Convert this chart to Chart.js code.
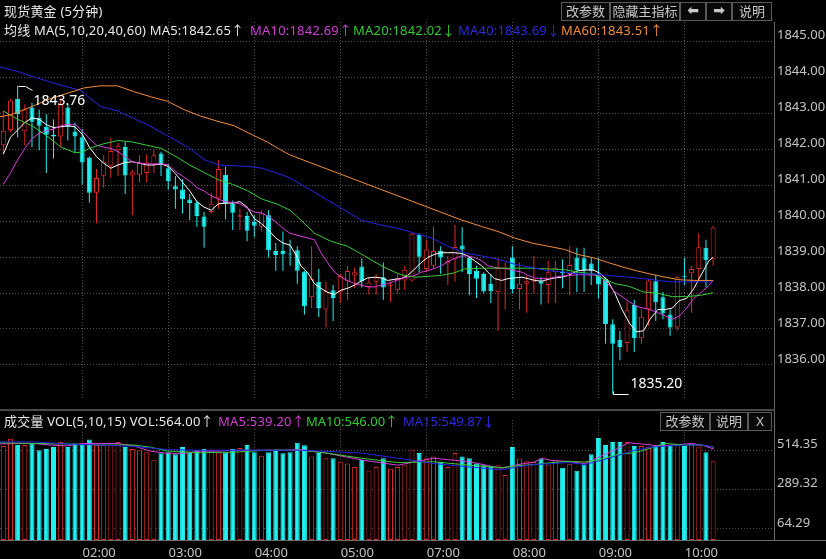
<!DOCTYPE html>
<html><head><meta charset="utf-8">
<script src="https://cdn.jsdelivr.net/npm/chart.js@4.4.1/dist/chart.umd.min.js"></script>
<style>
html,body{margin:0;padding:0;background:#000;}
#wrap{position:relative;width:826px;height:559px;overflow:hidden;background:#000;font-family:"Noto Sans","Noto Sans CJK SC",sans-serif;}
.t{position:absolute;white-space:nowrap;font-size:13px;line-height:16px;letter-spacing:0.2px;}
.btn{position:absolute;box-sizing:border-box;border:1px solid #5a5a5a;color:#c8c8c8;font-size:13px;text-align:center;line-height:16px;height:19px;background:#080808;font-family:"Noto Sans CJK SC",sans-serif;}
.ar{font-family:"DejaVu Sans";font-size:14px;font-weight:bold;line-height:15px;}
.ln{position:absolute;}
#c1w{position:absolute;left:0;top:0;width:826px;height:410px;}
#c2w{position:absolute;left:0;top:410px;width:826px;height:149px;}
</style></head>
<body>
<div id="wrap">
  <div id="c1w"><canvas id="c1" width="826" height="410"></canvas></div>
  <div id="c2w"><canvas id="c2" width="826" height="149"></canvas></div>

  <div class="ln" style="left:774px;top:22px;width:1px;height:519px;background:#6a6a6a"></div>
  <div class="ln" style="left:0;top:409px;width:775px;height:2px;background:#4a4a4a"></div>
  <div class="ln" style="left:0;top:540px;width:826px;height:1px;background:#6a6a6a"></div>

  <div class="t" style="left:4px;top:3px;color:#e8e8e8">现货黄金 (5分钟)</div>
  <div class="btn" style="left:561px;top:2px;width:49px">改参数</div>
  <div class="btn" style="left:610px;top:2px;width:70px">隐藏主指标</div>
  <div class="btn ar" style="left:680px;top:2px;width:26px">⬅</div>
  <div class="btn ar" style="left:706px;top:2px;width:26px">➡</div>
  <div class="btn" style="left:732px;top:2px;width:40px">说明</div>

  <div class="t" style="left:4px;top:22px;color:#e8e8e8">均线 MA(5,10,20,40,60)&nbsp;MA5:1842.65↑</div>
  <div class="t" style="left:250px;top:22px;color:#d23cd2">MA10:1842.69↑</div>
  <div class="t" style="left:353px;top:22px;color:#34c834">MA20:1842.02↓</div>
  <div class="t" style="left:458px;top:22px;color:#2a2ae0">MA40:1843.69↓</div>
  <div class="t" style="left:561px;top:22px;color:#f08c3c">MA60:1843.51↑</div>

  <div class="t" style="left:4px;top:413px;color:#e8e8e8">成交量 VOL(5,10,15)&nbsp;VOL:564.00↑</div>
  <div class="t" style="left:218px;top:413px;color:#d23cd2">MA5:539.20↑</div>
  <div class="t" style="left:306px;top:413px;color:#34c834;letter-spacing:0">MA10:546.00↑</div>
  <div class="t" style="left:403px;top:413px;color:#2a2ae0;letter-spacing:0">MA15:549.87↓</div>
  <div class="btn" style="left:660px;top:412px;width:50px">改参数</div>
  <div class="btn" style="left:710px;top:412px;width:38px">说明</div>
  <div class="btn" style="left:748px;top:412px;width:24px;font-family:'Noto Sans'">X</div>
</div>
<script>
// ---------- data ----------
const opens = [1842.11,1842.53,1843.40,1842.50,1843.16,1842.87,1842.62,1842.40,1842.35,1843.16,
1842.49,1842.33,1841.77,1840.79,1841.26,1841.54,1841.97,1842.06,1841.27,1841.29,
1841.34,1841.56,1841.88,1841.47,1840.97,1840.88,1840.60,1840.52,1840.13,1840.25,
1840.63,1841.29,1840.48,1840.12,1840.14,1839.98,1839.84,1840.16,1839.17,1839.17,
1839.10,1839.19,1838.60,1837.88,1838.31,1837.54,1838.08,1838.02,1838.33,1838.49,
1838.74,1838.17,1838.31,1838.44,1838.20,1838.08,1838.35,1838.35,1839.62,1838.67,
1838.76,1839.17,1838.83,1838.94,1839.32,1838.99,1838.62,1838.53,1838.26,1838.02,
1838.67,1838.99,1838.11,1838.26,1838.31,1838.33,1838.22,1838.58,1838.60,1838.53,
1838.98,1838.97,1838.82,1838.49,1838.40,1837.13,1836.70,1836.61,1837.67,1836.74,
1837.54,1838.33,1837.88,1837.40,1837.04,1838.46,1838.55,1838.67,1839.26,1838.94];
const highs = [1843.06,1843.40,1843.76,1843.25,1843.28,1843.10,1842.97,1842.83,1843.42,1843.24,
1842.74,1842.56,1841.79,1841.45,1841.83,1842.31,1842.17,1842.20,1841.43,1841.83,
1841.86,1841.97,1841.93,1841.59,1841.25,1841.16,1840.75,1840.57,1840.25,1840.79,
1841.70,1841.52,1840.57,1840.34,1840.25,1840.16,1840.30,1840.30,1839.39,1839.71,
1839.48,1839.30,1838.62,1839.30,1838.67,1838.31,1838.22,1838.53,1838.76,1838.71,
1838.96,1838.42,1838.53,1838.85,1838.31,1838.53,1838.76,1839.66,1839.66,1839.48,
1839.85,1839.30,1839.03,1839.89,1839.83,1839.03,1838.76,1838.58,1838.53,1838.96,
1838.85,1839.30,1838.85,1838.49,1839.03,1838.44,1838.90,1838.90,1838.94,1839.30,
1839.26,1839.26,1838.98,1838.98,1838.44,1837.27,1836.95,1837.76,1837.81,1837.54,
1838.40,1838.49,1838.03,1837.54,1838.49,1838.98,1838.76,1839.66,1839.48,1839.87];
const lows = [1841.88,1842.47,1842.33,1842.10,1842.06,1841.97,1841.34,1841.74,1842.06,1842.24,
1841.92,1841.02,1840.52,1839.94,1840.93,1841.20,1841.25,1840.75,1840.16,1841.07,
1841.07,1841.34,1841.25,1840.88,1840.34,1840.21,1840.03,1839.84,1839.26,1840.21,
1840.34,1840.05,1839.75,1839.75,1839.44,1839.55,1839.71,1838.99,1838.62,1838.62,
1838.76,1838.26,1837.40,1837.58,1837.33,1837.04,1837.22,1837.72,1837.81,1838.13,
1838.15,1837.95,1837.95,1837.81,1837.76,1837.99,1838.08,1838.31,1838.58,1838.58,
1838.67,1838.53,1838.22,1838.31,1838.58,1837.94,1837.86,1837.99,1837.72,1836.95,
1837.54,1837.99,1837.54,1837.45,1837.99,1837.68,1837.72,1837.72,1838.13,1837.94,
1838.03,1838.03,1838.22,1837.85,1836.59,1835.20,1836.13,1836.36,1836.36,1836.59,
1837.09,1837.22,1837.27,1836.81,1836.95,1838.22,1837.45,1838.40,1838.17,1838.76];
const closes = [1842.51,1843.35,1842.97,1843.10,1842.76,1842.65,1842.40,1842.35,1843.24,1842.62,
1842.35,1841.63,1840.79,1841.20,1841.65,1841.95,1842.08,1841.27,1841.36,1841.63,
1841.63,1841.83,1841.56,1841.11,1840.88,1840.61,1840.50,1840.14,1839.84,1840.48,
1841.45,1840.48,1840.23,1840.16,1839.73,1839.87,1840.21,1839.19,1839.06,1839.08,
1839.07,1838.62,1837.63,1838.40,1837.58,1838.05,1837.86,1838.47,1838.61,1838.58,
1838.33,1838.29,1838.44,1838.15,1838.23,1838.42,1838.65,1839.65,1839.01,1839.21,
1839.17,1838.99,1838.90,1839.28,1839.21,1838.53,1838.40,1838.04,1838.05,1838.69,
1838.69,1838.11,1838.26,1838.33,1838.40,1838.26,1838.58,1838.69,1838.55,1838.78,
1838.64,1838.62,1838.62,1838.24,1837.13,1836.59,1836.50,1837.52,1836.74,1837.34,
1838.35,1837.74,1837.43,1837.04,1838.44,1838.44,1838.67,1839.27,1838.91,1839.82];
const volumes = [541,582,546,546,555,516,523,534,564,534,
555,555,578,546,546,546,564,534,523,516,
505,462,498,505,493,534,505,516,523,520,
505,505,523,529,546,505,484,505,511,498,
505,559,545,480,500,470,470,450,440,420,
460,400,420,470,410,420,430,520,500,470,
480,450,420,500,480,470,440,430,420,430,
373,534,469,452,448,469,434,462,416,439,
398,434,493,586,546,564,564,564,541,541,
534,541,564,546,552,541,552,537,505,452];

// moving-average lines as [candle index, value]
const ma5Pts = [[0,1841.86],[1,1842.33],[2,1842.53],[3,1842.74],[4,1842.87],[5,1842.83],[6,1842.68],[7,1842.60],[8,1842.62],[9,1842.65],
[10,1842.62],[11,1842.42],[12,1842.06],[13,1841.79],[14,1841.61],[15,1841.47],[16,1841.56],[17,1841.63],[18,1841.65],[19,1841.61],
[20,1841.56],[21,1841.56],[22,1841.59],[23,1841.52],[24,1841.32],[25,1841.08],[26,1840.84],[27,1840.54],[28,1840.39],[29,1840.30],
[30,1840.48],[31,1840.50],[32,1840.50],[33,1840.54],[34,1840.39],[35,1840.07],[36,1839.93],[37,1839.75],[38,1839.53],[39,1839.39],
[40,1839.33],[40.9,1839.03],[41.5,1838.76],[42.4,1838.58],[43.4,1838.26],[44.3,1838.13],[45.2,1838.02],[46.2,1837.96],[47.1,1838.08],[48,1838.13],
[49,1838.22],[49.9,1838.33],[50.8,1838.42],[51.8,1838.44],[52.7,1838.42],[53.6,1838.35],[54.6,1838.38],[55.5,1838.40],[56.4,1838.49],[57.4,1838.67],
[58.3,1838.85],[59.2,1838.99],[60.2,1839.08],[61.1,1839.12],[62,1839.12],[62.9,1839.12],[63.9,1839.10],[64.8,1839.03],[65.7,1838.90],[66.7,1838.76],
[67.6,1838.58],[68.5,1838.40],[69.5,1838.35],[70.4,1838.40],[71.3,1838.42],[72.3,1838.44],[73.2,1838.40],[74.1,1838.35],[75.1,1838.33],[76,1838.38],
[76.9,1838.42],[77.9,1838.44],[78.8,1838.49],[79.7,1838.58],[80.2,1838.62],[81.2,1838.64],[82.3,1838.64],[83.2,1838.55],[84.3,1838.35],[85.3,1837.99],
[86.3,1837.54],[87.3,1837.17],[88.3,1836.92],[89.3,1836.95],[90.2,1837.27],[91.3,1837.54],[92.3,1837.54],[93.3,1837.58],[94.3,1837.79],[95.3,1837.85],
[96.3,1838.12],[97.4,1838.53],[98.4,1838.89],[99,1839.00]];
const ma10Pts = [[0,1841.02],[1,1841.34],[2,1841.70],[3,1842.02],[4,1842.29],[5,1842.44],[6,1842.51],[7,1842.56],[8,1842.65],[9,1842.69],
[10,1842.69],[11,1842.51],[12,1842.29],[13,1842.11],[14,1842.06],[15,1842.02],[16,1841.93],[17,1841.79],[18,1841.65],[19,1841.61],
[20,1841.59],[21,1841.59],[22,1841.59],[23,1841.56],[24,1841.38],[25,1841.25],[26,1841.11],[27,1840.93],[28,1840.84],[29,1840.70],
[30,1840.61],[31,1840.54],[32,1840.52],[33,1840.48],[34,1840.36],[35,1840.25],[36,1840.23],[37,1840.12],[38,1839.98],[39,1839.80],
[40,1839.66],[43.4,1839.48],[44.3,1839.12],[45.2,1838.85],[46.2,1838.58],[47.1,1838.44],[48,1838.35],[49,1838.26],[49.9,1838.22],[50.8,1838.17],
[51.8,1838.17],[52.7,1838.22],[53.6,1838.26],[54.6,1838.33],[55.5,1838.40],[56.4,1838.44],[57.4,1838.49],[58.3,1838.58],[59.2,1838.62],[60.2,1838.69],
[61.1,1838.76],[62,1838.87],[62.9,1838.96],[63.9,1839.03],[64.8,1839.03],[65.7,1838.99],[66.7,1838.90],[67.6,1838.76],[68.5,1838.71],[69.5,1838.69],
[70.4,1838.67],[71.3,1838.62],[72.3,1838.58],[73.2,1838.49],[74.1,1838.42],[75.1,1838.40],[76,1838.40],[76.9,1838.44],[77.9,1838.47],[80.2,1838.51],
[82.3,1838.50],[83.2,1838.49],[84.3,1838.26],[85.3,1838.03],[86.3,1837.90],[87.3,1837.76],[88.3,1837.63],[89.3,1837.58],[90.2,1837.54],[91.3,1837.45],
[92.3,1837.37],[93.3,1837.27],[94.3,1837.36],[95.3,1837.58],[96.3,1837.85],[97.4,1838.03],[98.4,1838.21],[99,1838.35]];
const ma20Pts = [[0,1843.06],[2,1842.83],[4,1842.65],[6,1842.38],[8,1842.06],[10,1841.90],[11,1841.92],[12,1842.02],[14,1842.15],[16,1842.24],
[18,1842.20],[20,1842.11],[22,1842.02],[24.1,1841.79],[26,1841.56],[28.1,1841.34],[30.1,1841.14],[32,1841.02],[34.1,1840.84],[36.1,1840.61],
[38.1,1840.48],[40,1840.30],[41.5,1840.03],[43.4,1839.66],[45.7,1839.44],[48,1839.30],[50.4,1839.03],[52.7,1838.76],[54.6,1838.58],[55.5,1838.51],
[57.4,1838.44],[59.7,1838.47],[61.1,1838.49],[62.9,1838.56],[64.3,1838.67],[66.7,1838.69],[69,1838.69],[71.3,1838.69],[73.7,1838.69],[76,1838.67],
[78.3,1838.65],[80.2,1838.58],[82.3,1838.53],[83.2,1838.44],[84.3,1838.35],[85.3,1838.26],[87.2,1838.19],[89.3,1838.03],[91.3,1837.99],[93.3,1837.90],
[95.3,1837.90],[97.4,1837.94],[99,1838.01]];
const ma40Pts = [[-0.5,1844.29],[2.3,1844.14],[4.2,1844.01],[6.5,1843.87],[8.9,1843.73],[10.7,1843.64],[13.5,1843.19],[16,1843.06],[18,1842.87],[20,1842.69],
[22,1842.47],[24.1,1842.24],[26,1842.02],[28.1,1841.70],[30.1,1841.56],[32,1841.54],[34.1,1841.52],[36.1,1841.47],[38.1,1841.34],[40,1841.20],
[49.9,1840.03],[52.7,1839.89],[55,1839.80],[57.4,1839.66],[59.7,1839.53],[62,1839.30],[64.3,1839.12],[66.7,1839.03],[69,1838.94],[71.3,1838.80],
[73.7,1838.71],[76,1838.62],[78.3,1838.58],[80.2,1838.53],[82.3,1838.53],[84.3,1838.49],[87.2,1838.44],[89.3,1838.40],[91.3,1838.35],[93.3,1838.31],
[95.3,1838.31],[97.4,1838.31],[99,1838.31]];
const ma60Pts = [[-0.5,1842.90],[0.9,1842.95],[2.3,1843.05],[4.2,1843.20],[6.5,1843.40],[8.9,1843.55],[11.2,1843.70],[13.5,1843.76],[15.9,1843.76],[18.2,1843.60],
[20.5,1843.46],[22.9,1843.33],[25.2,1843.10],[27.5,1842.92],[29.8,1842.78],[32.2,1842.65],[34.5,1842.42],[36.8,1842.20],[39.2,1841.92],[40.1,1841.83],
[63.9,1840.03],[66.7,1839.85],[69,1839.71],[71.3,1839.53],[73.7,1839.39],[76,1839.30],[78.3,1839.21],[80.2,1839.07],[82.3,1838.98],[84.3,1838.85],
[86.3,1838.73],[88.3,1838.62],[90.2,1838.53],[92.3,1838.44],[94.3,1838.37],[96.3,1838.35],[99,1838.35]];

const vma5Pts = [[-0.5,552],[1.9,555],[4.2,555],[6.5,546],[8.9,541],[11.2,555],[13.5,555],[15.9,555],[18.2,541],[20.5,511],
[22.9,498],[25.2,498],[27.5,511],[29.8,511],[32.2,516],[34.5,516],[36.8,516],[39.2,516],[41.5,520],[45,500],
[50,460],[55,430],[60,470],[65,450],[69.5,412],[71.8,434],[74.1,448],[75.1,470],[76.5,457],[78.8,452],
[81.1,439],[83.5,484],[85.8,529],[87.2,559],[89,552],[91.4,541],[93.7,546],[96,555],[97.4,546],[99.1,523]];
const vma10Pts = [[-0.5,559],[4.2,555],[8.9,552],[13.5,546],[18.2,546],[20.5,534],[22.9,511],[27.5,502],[32.2,505],[36.8,516],
[41.5,516],[45,500],[50,470],[55,445],[60,450],[65,430],[69.5,416],[71.8,427],[74.1,434],[76.5,445],
[78.8,452],[81.1,448],[83.5,466],[85.8,493],[88.1,502],[90.4,529],[92.3,555],[95.1,546],[97.4,546],[99.1,534]];
const vma15Pts = [[-0.5,564],[4.2,564],[8.9,552],[13.5,546],[18.2,538],[20.5,529],[22.9,520],[27.5,516],[32.2,516],[36.8,516],
[41.5,516],[50,500],[55,470],[60,440],[65,420],[69.5,403],[71.8,421],[74.1,434],[76.5,439],[78.8,445],
[81.1,434],[83.5,459],[85.8,487],[88.1,516],[90.4,534],[92.8,541],[95.1,546],[97.4,546],[99.1,534]];

const priceTicks = [1836,1837,1838,1839,1840,1841,1842,1843,1844,1845];
const volTicks = [64.29,289.32,514.35];
const hourTickIdx = [11,23,35,47,59,71,83,95];
const hourLabels = ['02:00','03:00','04:00','05:00','07:00','08:00','09:00','10:00'];
const hiMark = {idx:2, val:1843.76, text:'1843.76'};
const loMark = {idx:85, val:1835.20, text:'1835.20'};

// ---------- styling ----------
const RED = '#e02a2a', CYAN = '#22f0f0';
const GRID = 'rgba(150,150,150,0.55)';
const XMIN = -0.46, XMAX = 107.63;
const idx = opens.map((_, i) => i);
const isUp = i => closes[i] >= opens[i];
const toXY = arr => arr.map(([x, y]) => ({x, y}));
const lineDs = (pts, color) => ({type:'line', data:toXY(pts), borderColor:color, borderWidth:1,
  pointRadius:0, tension:0, order:1, parsing:false});

const xScaleBase = {
  type:'linear', min:XMIN, max:XMAX, offset:false,
  grid:{color:GRID, lineWidth:1, drawTicks:false, offset:false},
  border:{display:false, dash:[1,2]},
  afterBuildTicks: s => { s.ticks = hourTickIdx.map(v => ({value:v})); }
};

const annot = {
  id:'annot',
  afterDatasetsDraw(chart){
    const {ctx, scales:{x, y}} = chart;
    ctx.save();
    ctx.strokeStyle = '#ffffff'; ctx.fillStyle = '#ffffff'; ctx.lineWidth = 1;
    ctx.font = '14px "Noto Sans"'; ctx.textBaseline = 'middle';
    const hx = Math.round(x.getPixelForValue(hiMark.idx)) + 0.5, hy = Math.round(y.getPixelForValue(hiMark.val)) + 0.5;
    ctx.beginPath(); ctx.moveTo(hx, hy); ctx.lineTo(hx + 7, hy); ctx.lineTo(hx + 14, hy + 4); ctx.stroke();
    ctx.fillText(hiMark.text, hx + 15, hy + 15);
    const lx = Math.round(x.getPixelForValue(loMark.idx)) + 0.5, ly = Math.round(y.getPixelForValue(loMark.val)) + 0.5;
    ctx.beginPath(); ctx.moveTo(lx, ly - 3); ctx.lineTo(lx, ly); ctx.lineTo(lx + 15, ly); ctx.stroke();
    ctx.fillText(loMark.text, lx + 17, ly - 10);
    ctx.restore();
  }
};

Chart.defaults.font.family = '"Noto Sans", sans-serif';

new Chart(document.getElementById('c1'), {
  type:'bar',
  data:{datasets:[
    {type:'bar', data:idx.map(i => ({x:i, y:[lows[i], highs[i]]})),
     backgroundColor:idx.map(i => isUp(i) ? RED : CYAN), borderWidth:0,
     barThickness:1, grouped:false, order:3, inflateAmount:0},
    {type:'bar', data:idx.map(i => ({x:i, y:[Math.min(opens[i], closes[i]), Math.max(opens[i], closes[i])]})),
     backgroundColor:idx.map(i => isUp(i) ? '#000000' : CYAN),
     borderColor:idx.map(i => isUp(i) ? RED : CYAN), borderWidth:1, borderSkipped:false,
     barThickness:5, grouped:false, order:2, minBarLength:1, inflateAmount:0},
    lineDs(ma60Pts, '#f08c3c'),
    lineDs(ma40Pts, '#2424e6'),
    lineDs(ma20Pts, '#38cc38'),
    lineDs(ma10Pts, '#dc3cdc'),
    lineDs(ma5Pts, '#ffffff')
  ]},
  options:{
    responsive:false, animation:false, events:[], devicePixelRatio:1,
    layout:{padding:{top:22, bottom:1, left:0, right:0}},
    plugins:{legend:{display:false}, tooltip:{enabled:false}},
    scales:{
      x:Object.assign({}, xScaleBase, {ticks:{display:false}, afterFit: s => { s.height = 0; }}),
      y:{type:'linear', position:'right', min:1835.02, max:1845.535,
        grid:{color:GRID, lineWidth:1, drawTicks:false},
        border:{display:false, dash:[1,2]},
        ticks:{color:'#c4c4c4', font:{size:13}, padding:2, labelOffset:-6,
          callback: v => Number(v).toFixed(2)},
        afterBuildTicks: s => { s.ticks = priceTicks.map(v => ({value:v})); },
        afterFit: s => { s.width = 51; }
      }
    }
  },
  plugins:[annot]
});

new Chart(document.getElementById('c2'), {
  type:'bar',
  data:{datasets:[
    {type:'bar', data:idx.map(i => ({x:i, y:volumes[i]})),
     backgroundColor:idx.map(i => isUp(i) ? '#000000' : CYAN),
     borderColor:idx.map(i => isUp(i) ? RED : CYAN), borderWidth:1, borderSkipped:false,
     barThickness:5, grouped:false, order:2, inflateAmount:0},
    lineDs(vma15Pts, '#2424e6'),
    lineDs(vma10Pts, '#38cc38'),
    lineDs(vma5Pts, '#dc3cdc')
  ]},
  options:{
    responsive:false, animation:false, events:[], devicePixelRatio:1,
    layout:{padding:{top:1, bottom:0, left:0, right:0}},
    plugins:{legend:{display:false}, tooltip:{enabled:false}},
    scales:{
      x:Object.assign({}, xScaleBase, {
        ticks:{display:true, color:'#c4c4c4', font:{size:13}, padding:5, labelOffset:17, maxRotation:0,
          autoSkip:false, callback: v => hourLabels[hourTickIdx.indexOf(v)] || ''},
        afterFit: s => { s.height = 19; }}),
      y:{type:'linear', position:'right', min:0, max:691,
        grid:{color:GRID, lineWidth:1, drawTicks:false},
        border:{display:false, dash:[1,2]},
        ticks:{color:'#c4c4c4', font:{size:13}, padding:2, labelOffset:-6,
          callback: v => Number(v).toFixed(2)},
        afterBuildTicks: s => { s.ticks = volTicks.map(v => ({value:v})); },
        afterFit: s => { s.width = 51; }
      }
    }
  }
});
</script>
</body></html>
